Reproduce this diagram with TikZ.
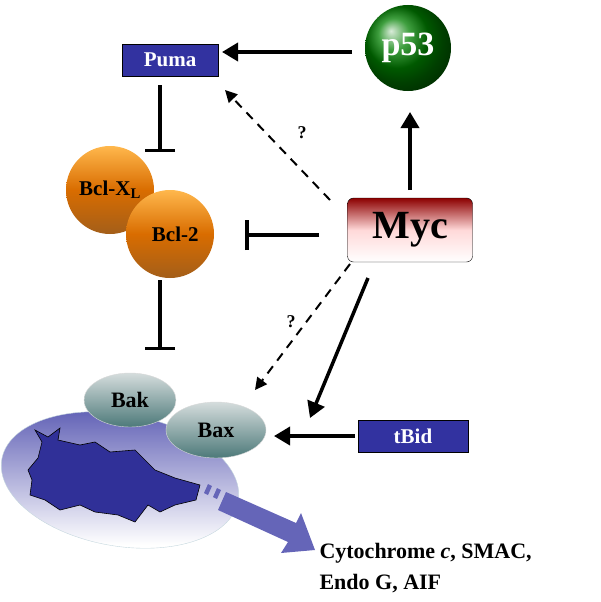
\documentclass[tikz,border=0pt]{standalone}
\usepackage{fontspec}
\setmainfont{Liberation Serif}
\usetikzlibrary{arrows.meta,shapes.geometric}
\definecolor{pblue}{RGB}{50,50,160}
\newcommand{\fs}[1]{\fontsize{#1}{#1}\selectfont\bfseries}
\begin{document}
\begin{tikzpicture}[x=1pt,y=-1pt,
  every node/.style={font=\fs{21}},
  act/.style={line width=3.5pt,-{Triangle[length=16pt,width=18pt]}},
  dact/.style={line width=2pt,dash pattern=on 9pt off 7pt,-{Triangle[length=12pt,width=12pt]}},
  inh/.style={line width=3.5pt,-{Bar[width=30pt]}},
  bluebox/.style={draw=black,fill=pblue,text=white,minimum width=96pt,minimum height=32pt,inner sep=0pt,font=\fs{21}},
  ball/.style={circle,minimum size=88pt,inner sep=0pt,top color=orange!80!yellow!70,bottom color=orange!60!black!90,middle color=orange!85!black,font=\fs{21}},
  pill/.style={ellipse,draw=white!70!gray,top color=cyan!10!gray!30,bottom color=teal!50!black!70,inner sep=0pt,font=\fs{22}}]
\useasboundingbox (0,0) rectangle (600,602);
% mitochondrion
\node[ellipse,minimum width=240pt,minimum height=132pt,rotate=-10,draw=cyan!30!gray!40,top color=pblue!80,bottom color=white] (mito) at (120,480) {};
\filldraw[fill=pblue!95!black,draw=black,line width=0.6pt] (35,430) -- (48,437) -- (60,428) -- (58,440) -- (80,445) -- (95,442) -- (110,452) -- (135,450) -- (155,470) -- (175,478) -- (200,485) -- (196,500) -- (175,505) -- (160,512) -- (148,505) -- (135,522) -- (118,515) -- (95,512) -- (80,505) -- (60,510) -- (45,500) -- (30,495) -- (32,480) -- (28,470) -- (38,458) -- (42,442) -- cycle;
% big arrow
\fill[pblue!75] (204,493) -- (208,484) -- (212,486) -- (208,495) -- cycle;
\fill[pblue!75] (213,497) -- (217,488) -- (221,490) -- (217,499) -- cycle;
\fill[pblue!75] (222,501) -- (226,492) -- (296,523) -- (301,513) -- (315,550) -- (281,553) -- (288,542) -- (218,510) -- cycle;
\node[anchor=west,font=\fs{22}] (cyt) at (316,553) {Cytochrome \textit{c}, SMAC,};
\node[anchor=west,font=\fs{22}] (endo) at (316,584) {Endo G, AIF};
% Bak / Bax
\node[pill,minimum width=92pt,minimum height=54pt] (bak) at (130,400) {Bak};
\node[pill,minimum width=100pt,minimum height=56pt] (bax) at (216,430) {Bax};
% Bcl
\node[ball] (bclx) at (110,190) {Bcl-X$_{\mathbf L}$};
\node[ball] (bcl2) at (170,234) {\ \ Bcl-2};
% boxes
\node[bluebox] (puma) at (170,60) {Puma};
\node[bluebox,minimum width=110pt] (tbid) at (413,436) {tBid};
\node[circle,minimum size=86pt,inner sep=0pt,ball color=green!50!black,text=white,font=\fs{34}] (p53) at (408,48) {p53};
\node[draw=black,rounded corners=6pt,minimum width=125pt,minimum height=64pt,top color=red!55!black,bottom color=white,middle color=red!15,font=\fs{40}] (myc) at (410,230) {Myc};
% connectors
\coordinate (pumaB) at (160,85);
\coordinate (bclT) at (160,152);
\coordinate (bclB) at (160,280);
\coordinate (bakT) at (160,350);
\coordinate (bclR) at (245,235);
\coordinate (baxA) at (255,390);
\coordinate (baxB) at (310,418);
\coordinate (pumaA) at (225,90);
\coordinate (p53W) at (352,52);
\coordinate (pumaE) at (222,52);
\coordinate (mycN) at (410,190);
\coordinate (p53S) at (410,112);
\coordinate (tbidW) at (355,436);
\coordinate (baxE) at (274,436);
\draw[act] (p53W) -- (pumaE);
\draw[act] (mycN) -- (p53S);
\draw[inh] (pumaB) -- (bclT);
\draw[inh] (bclB) -- (bakT);
\draw[inh] (319,235) -- (bclR);
\draw[dact] (330,200) -- (pumaA);
\draw[dact] (350,264) -- (baxA);
\draw[act] (368,278) -- (baxB);
\draw[act] (tbidW) -- (baxE);
\node[font=\fs{18}] (q1) at (302,133) {?};
\node[font=\fs{18}] (q2) at (291,322) {?};
\end{tikzpicture}
\end{document}
